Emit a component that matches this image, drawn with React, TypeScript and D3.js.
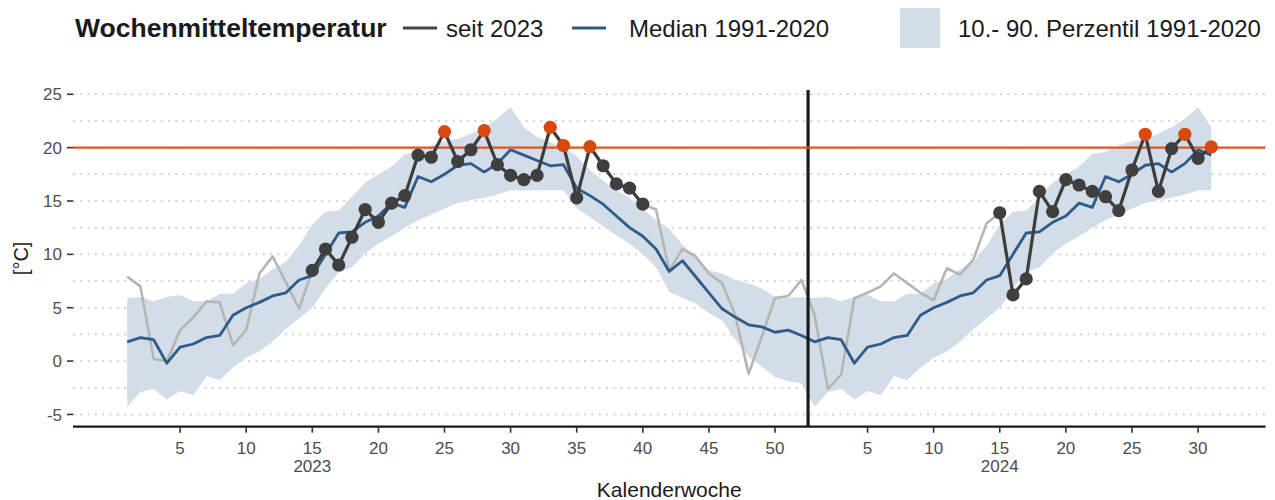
import React, { useEffect, useRef } from 'react';
import * as d3 from 'd3';

// Klimatologie 1991-2020 je Kalenderwoche (KW 1-52)
const medianByWeek = [
  1.8, 2.2, 2.0, -0.2, 1.3, 1.6, 2.2, 2.4, 4.3, 5.0,
  5.5, 6.1, 6.4, 7.6, 8.0, 10.0, 12.0, 12.1, 13.0, 13.6,
  14.8, 14.4, 17.3, 16.8, 17.5, 18.35, 18.5, 17.7, 18.5, 19.8,
  19.3, 18.8, 18.3, 18.4, 16.2, 15.5, 14.7, 13.6, 12.5, 11.7,
  10.5, 8.4, 9.4, 7.9, 6.4, 4.9, 4.1, 3.4, 3.2, 2.7,
  2.9, 2.4,
];
const p10ByWeek = [
  -4.3, -2.9, -2.6, -3.6, -2.8, -3.2, -1.4, -1.8, -0.6, 0.3,
  0.9, 1.8, 3.0, 4.0, 5.0, 6.8, 8.3, 8.8, 10.1, 11.0,
  11.7, 12.5, 13.2, 13.7, 14.3, 14.8, 15.1, 15.3, 15.6, 16.0,
  16.0, 16.0, 16.0, 16.0, 14.3, 13.5, 12.6, 11.8, 11.0, 10.0,
  8.8, 6.5, 5.9, 5.4, 4.5, 3.8, 2.0, 0.4, -0.5, -1.5,
  -1.9, -2.1,
];
const p90ByWeek = [
  5.9, 6.0, 5.6, 6.0, 6.2, 5.6, 5.6, 6.3, 6.3, 7.3,
  7.7, 8.6, 9.3, 10.8, 12.8, 14.0, 14.1, 15.4, 16.7, 17.5,
  18.2, 19.4, 19.6, 20.2, 20.6, 20.8, 21.3, 21.9, 22.7, 23.8,
  21.9, 21.0, 20.5, 20.0, 19.2, 17.9, 16.9, 16.0, 15.3, 14.3,
  13.2, 12.4, 10.9, 9.8, 8.5, 8.2, 7.6, 7.3, 6.8, 6.0,
  5.9, 6.0,
];

// Wochenmitteltemperatur seit 2023
const temp2023 = [
  7.9, 7.0, 0.2, 0.0, 2.9, 4.1, 5.6, 5.5, 1.5, 2.9,
  8.2, 9.8, 7.4, 4.9, 8.5, 10.5, 9.0, 11.6, 14.2, 13.0,
  14.8, 15.5, 19.3, 19.1, 21.5, 18.7, 19.8, 21.6, 18.4, 17.4,
  17.0, 17.4, 21.9, 20.2, 15.3, 20.1, 18.3, 16.6, 16.2, 14.7,
  14.2, 8.5, 10.5, 9.8, 8.2, 7.3, 4.3, -1.2, 2.3, 5.9,
  6.1, 7.6,
];
const temp2024 = [
  4.3, -2.6, -1.3, 5.9, 6.4, 7.0, 8.2, 7.3, 6.4, 5.7,
  8.7, 8.1, 9.5, 12.9, 13.9, 6.2, 7.7, 15.9, 14.0, 17.0,
  16.5, 15.9, 15.4, 14.1, 17.9, 21.25, 15.9, 19.9, 21.25, 19.0,
  20.07,
];

// hervorgehobener Zeitraum (KW 15 bis KW 40 bzw. aktuelle KW)
const highlightStartWeek = 15;
const highlightEndWeek2023 = 40;
const threshold = 20;

const yTicks = [-5, 0, 5, 10, 15, 20, 25];
const yGrid = [-5, -2.5, 0, 2.5, 5, 7.5, 10, 12.5, 15, 17.5, 20, 22.5, 25];
const xTicks2023 = [5, 10, 15, 20, 25, 30, 35, 40, 45, 50];
const xTicks2024 = [5, 10, 15, 20, 25, 30];
const yearLabels = [
  { year: '2023', week: 15, offset: 0 },
  { year: '2024', week: 15, offset: 52 },
];

interface Row {
  idx: number;
  week: number;
  year: number;
  temp: number;
  median: number;
  p10: number;
  p90: number;
}

const rows: Row[] = [
  ...temp2023.map((t, i) => ({
    idx: i + 1, week: i + 1, year: 2023, temp: t,
    median: medianByWeek[i], p10: p10ByWeek[i], p90: p90ByWeek[i],
  })),
  ...temp2024.map((t, i) => ({
    idx: 53 + i, week: i + 1, year: 2024, temp: t,
    median: medianByWeek[i], p10: p10ByWeek[i], p90: p90ByWeek[i],
  })),
];

const W = 1275;
const H = 500;
const FONT = '"Liberation Sans", Arial, Helvetica, sans-serif';

const App: React.FC = () => {
  const ref = useRef<SVGSVGElement>(null);

  useEffect(() => {
    if (!ref.current) return;
    const svg = d3.select(ref.current);
    svg.selectAll('*').remove();

    const left = 73;
    const right = 1265.5;
    const top = 90;
    const bottom = 426.7;

    const x = d3.scaleLinear().domain([-3.1, 87.1]).range([left, right]);
    const y = d3.scaleLinear().domain([-6.15, 25.4]).range([bottom, top]);

    // Gitterlinien
    svg.append('g')
      .selectAll('line')
      .data(yGrid)
      .enter()
      .append('line')
      .attr('x1', left)
      .attr('x2', right)
      .attr('y1', (d) => y(d))
      .attr('y2', (d) => y(d))
      .attr('stroke', '#c8c8c8')
      .attr('stroke-width', 1.6)
      .attr('stroke-dasharray', '2,5.3');

    // Perzentilband
    const area = d3.area<Row>()
      .x((d) => x(d.idx))
      .y0((d) => y(d.p10))
      .y1((d) => y(d.p90));
    svg.append('path')
      .datum(rows)
      .attr('d', area)
      .attr('fill', '#d3dde8');

    const line = d3.line<Row>()
      .x((d) => x(d.idx))
      .y((d) => y(d.temp));

    // ganze Reihe grau
    svg.append('path')
      .datum(rows)
      .attr('d', line)
      .attr('fill', 'none')
      .attr('stroke', '#b5b5b5')
      .attr('stroke-width', 2.6)
      .attr('stroke-linejoin', 'round');

    // Median
    svg.append('path')
      .datum(rows)
      .attr('d', d3.line<Row>().x((d) => x(d.idx)).y((d) => y(d.median)))
      .attr('fill', 'none')
      .attr('stroke', '#2f5b8a')
      .attr('stroke-width', 2.8)
      .attr('stroke-linejoin', 'round');

    // Jahreswechsel
    svg.append('line')
      .attr('x1', x(52.5))
      .attr('x2', x(52.5))
      .attr('y1', top)
      .attr('y2', bottom)
      .attr('stroke', '#1a1a1a')
      .attr('stroke-width', 3.2);

    // 20 °C Schwelle
    svg.append('line')
      .attr('x1', left)
      .attr('x2', right)
      .attr('y1', y(threshold))
      .attr('y2', y(threshold))
      .attr('stroke', '#e0581c')
      .attr('stroke-width', 2.4);

    // hervorgehobene Abschnitte
    const segments = [
      rows.filter((d) => d.year === 2023 && d.week >= highlightStartWeek && d.week <= highlightEndWeek2023),
      rows.filter((d) => d.year === 2024 && d.week >= highlightStartWeek),
    ];
    segments.forEach((seg) => {
      svg.append('path')
        .datum(seg)
        .attr('d', line)
        .attr('fill', 'none')
        .attr('stroke', '#3d3d3d')
        .attr('stroke-width', 3.2)
        .attr('stroke-linejoin', 'round');
    });
    svg.append('g')
      .selectAll('circle')
      .data(segments.flat())
      .enter()
      .append('circle')
      .attr('cx', (d) => x(d.idx))
      .attr('cy', (d) => y(d.temp))
      .attr('r', 6.6)
      .attr('fill', (d) => (d.temp > threshold ? '#d9480f' : '#3f3f3f'));

    // y-Achse
    const yAxis = svg.append('g');
    yAxis.selectAll('line')
      .data(yTicks)
      .enter()
      .append('line')
      .attr('x1', 67)
      .attr('x2', 73)
      .attr('y1', (d) => y(d))
      .attr('y2', (d) => y(d))
      .attr('stroke', '#333')
      .attr('stroke-width', 1.6);
    yAxis.selectAll('text')
      .data(yTicks)
      .enter()
      .append('text')
      .attr('x', 62)
      .attr('y', (d) => y(d))
      .attr('dy', '0.36em')
      .attr('text-anchor', 'end')
      .attr('font-family', FONT)
      .attr('font-size', 17)
      .attr('fill', '#4d4d4d')
      .text((d) => d);

    // x-Achse
    const xAxis = svg.append('g');
    xAxis.append('line')
      .attr('x1', left)
      .attr('x2', right)
      .attr('y1', bottom)
      .attr('y2', bottom)
      .attr('stroke', '#1a1a1a')
      .attr('stroke-width', 2.2);
    const xTicks = [
      ...xTicks2023.map((w) => ({ idx: w, label: String(w) })),
      ...xTicks2024.map((w) => ({ idx: 52 + w, label: String(w) })),
    ];
    xAxis.selectAll('line.tick')
      .data(xTicks)
      .enter()
      .append('line')
      .attr('class', 'tick')
      .attr('x1', (d) => x(d.idx))
      .attr('x2', (d) => x(d.idx))
      .attr('y1', bottom)
      .attr('y2', bottom + 6)
      .attr('stroke', '#333')
      .attr('stroke-width', 1.6);
    xAxis.selectAll('text.tick')
      .data(xTicks)
      .enter()
      .append('text')
      .attr('class', 'tick')
      .attr('x', (d) => x(d.idx))
      .attr('y', 454)
      .attr('text-anchor', 'middle')
      .attr('font-family', FONT)
      .attr('font-size', 17)
      .attr('fill', '#4d4d4d')
      .text((d) => d.label);
    xAxis.selectAll('text.year')
      .data(yearLabels)
      .enter()
      .append('text')
      .attr('class', 'year')
      .attr('x', (d) => x(d.week + d.offset))
      .attr('y', 472)
      .attr('text-anchor', 'middle')
      .attr('font-family', FONT)
      .attr('font-size', 17)
      .attr('fill', '#4d4d4d')
      .text((d) => d.year);

    // Achsentitel
    svg.append('text')
      .attr('x', (left + right) / 2)
      .attr('y', 497)
      .attr('text-anchor', 'middle')
      .attr('font-family', FONT)
      .attr('font-size', 21)
      .attr('fill', '#1a1a1a')
      .text('Kalenderwoche');
    svg.append('text')
      .attr('transform', `translate(28,${(top + bottom) / 2}) rotate(-90)`)
      .attr('text-anchor', 'middle')
      .attr('font-family', FONT)
      .attr('font-size', 20)
      .attr('fill', '#1a1a1a')
      .text('[°C]');

    // Legende
    const lg = svg.append('g').attr('font-family', FONT).attr('fill', '#1a1a1a');
    lg.append('text')
      .attr('x', 75)
      .attr('y', 37)
      .attr('font-size', 26.5)
      .attr('font-weight', 'bold')
      .text('Wochenmitteltemperatur');
    lg.append('line')
      .attr('x1', 403).attr('x2', 437).attr('y1', 28).attr('y2', 28)
      .attr('stroke', '#454545').attr('stroke-width', 3.2);
    lg.append('text').attr('x', 446).attr('y', 37).attr('font-size', 24).text('seit 2023');
    lg.append('line')
      .attr('x1', 572).attr('x2', 606).attr('y1', 28).attr('y2', 28)
      .attr('stroke', '#2f5b8a').attr('stroke-width', 3.2);
    lg.append('text').attr('x', 629).attr('y', 37).attr('font-size', 24).text('Median 1991-2020');
    lg.append('rect')
      .attr('x', 900).attr('y', 8).attr('width', 40).attr('height', 40)
      .attr('fill', '#d3dde8');
    lg.append('text').attr('x', 958).attr('y', 37).attr('font-size', 24).text('10.- 90. Perzentil 1991-2020');
  }, []);

  return (
    <svg
      ref={ref}
      width={W}
      height={H}
      style={{ position: 'absolute', left: 0, top: 0, background: '#fff' }}
    />
  );
};

export default App;
